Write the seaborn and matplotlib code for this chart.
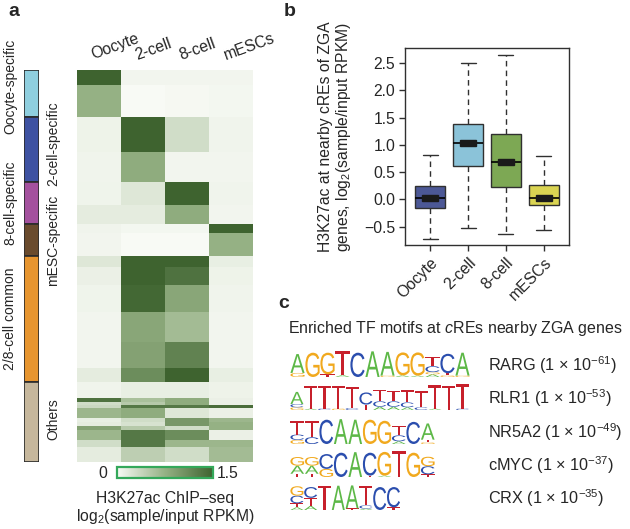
import numpy as np
import pandas as pd
import matplotlib
matplotlib.use("Agg")
import matplotlib.pyplot as plt
import seaborn as sns
from matplotlib.colors import LinearSegmentedColormap
from matplotlib.patches import Rectangle, PathPatch
from matplotlib.textpath import TextPath
from matplotlib.font_manager import FontProperties
import matplotlib.transforms as mtrans

sns.set_style("white")
plt.rcParams['font.family'] = ['Liberation Sans', 'DejaVu Sans']
plt.rcParams['mathtext.fontset'] = 'custom'
plt.rcParams['mathtext.rm'] = 'Liberation Sans'
plt.rcParams['mathtext.it'] = 'Liberation Sans:italic'

# ---------------- data: panel a ----------------
heat_columns = ["Oocyte", "2-cell", "8-cell", "mESCs"]
row_heights = [15, 32, 35, 30, 23, 19, 9, 23, 11, 18, 27, 30, 26, 14,
               16, 4, 3, 3, 10, 4, 4, 4, 10, 7, 15]
oocyte_vals = [1.5, 0.75, 0.08, 0.06, 0.07, 0.15, 0.06, 0.05, 0.2, 0.1, 0.07, 0.05, 0.05, 0.15,
               0.06, 1.35, 0.3, 0.35, 0.7, 0.12, 0.15, 0.9, 0.7, 0.3, 0.15]
cell2_vals = [0.05, 0.0, 1.5, 0.8, 0.2, 0.15, 0.04, 0.0, 1.6, 1.6, 1.45, 0.85, 0.9, 1.1,
              0.12, 0.6, 0.5, 1.3, 0.8, 0.3, 0.25, 0.5, 1.3, 1.3, 0.45]
cell8_vals = [0.05, 0.02, 0.3, 0.05, 1.5, 0.8, 0.04, 0.0, 1.6, 1.35, 0.85, 0.65, 1.2, 1.6,
              0.12, 0.8, 0.8, 1.3, 0.2, 1.0, 1.0, 0.3, 1.1, 0.7, 0.3]
mesc_vals = [0.05, 0.04, 0.06, 0.05, 0.06, 0.05, 1.5, 0.75, 0.12, 0.08, 0.06, 0.05, 0.05, 0.12,
             0.08, 0.1, 0.1, 1.4, 0.1, 0.7, 0.75, 0.75, 0.1, 0.7, 0.65]

group_names = ["Oocyte-specific", "2-cell-specific", "8-cell-specific",
               "mESC-specific", "2/8-cell common", "Others"]
group_sizes = [47, 65, 42, 32, 126, 80]
group_colors = ["#8FCFDF", "#3E52A2", "#A4519E", "#6A4B2D", "#E7952F", "#C6B79C"]
group_label_side = ["outer", "inner", "outer", "inner", "outer", "inner"]
group_label_shift = [-7, -6, 0, 0, 0, -3]

# ---------------- data: panel b ----------------
stages = ["Oocyte", "2-cell", "8-cell", "mESCs"]
# five-number summaries: min, Q1, median, Q3, max
oocyte_box = [-0.72, -0.15, 0.02, 0.24, 0.82]
cell2_box = [-0.52, 0.62, 1.03, 1.38, 2.51]
cell8_box = [-0.63, 0.23, 0.69, 1.20, 2.65]
mesc_box = [-0.56, -0.11, 0.02, 0.26, 0.80]
box_colors = ["#3F50A3", "#7EC9E6", "#7DB646", "#F1E93B"]

# ---------------- data: panel c ----------------
motif_names = ["RARG", "RLR1", "NR5A2", "cMYC", "CRX"]
motif_exps = [61, 53, 49, 37, 35]
rarg_logo = [[("G", .15), ("A", .7)], [("G", .9)], [("T", .1), ("G", .8)], [("A", .07), ("T", .88)],
             [("C", .9)], [("A", .95)], [("G", .05), ("A", .88)], [("A", .06), ("G", .85)],
             [("A", .05), ("G", .86)], [("A", .1), ("G", .08), ("C", .22), ("T", .35)],
             [("G", .06), ("T", .08), ("C", .72)], [("G", .05), ("A", .85)]]
rlr1_logo = [[("G", .1), ("C", .12), ("A", .45)], [("A", .05), ("T", .85)], [("C", .05), ("T", .85)],
             [("G", .05), ("T", .85)], [("C", .07), ("T", .8)], [("T", .2), ("C", .45)],
             [("A", .12), ("C", .2), ("T", .42)], [("A", .12), ("C", .2), ("T", .4)],
             [("A", .1), ("C", .18), ("T", .45)], [("C", .1), ("T", .6)],
             [("A", .05), ("T", .88)], [("T", .9)], [("C", .05), ("T", .9)]]
nr5a2_logo = [[("G", .15), ("C", .2), ("T", .5)], [("C", .25), ("T", .6)], [("C", .9)], [("A", .92)],
              [("A", .9)], [("G", .9)], [("G", .86)], [("A", .1), ("C", .22), ("T", .35)],
              [("C", .82)], [("G", .06), ("T", .1), ("A", .6)]]
cmyc_logo = [[("T", .12), ("A", .3), ("G", .32)], [("T", .12), ("A", .3), ("G", .32)],
             [("G", .3), ("C", .55)], [("C", .9)], [("A", .92)], [("T", .05), ("C", .85)],
             [("A", .05), ("G", .88)], [("T", .95)], [("G", .9)], [("T", .1), ("C", .3), ("G", .35)]]
crx_logo = [[("A", .1), ("T", .15), ("C", .28), ("G", .35)], [("A", .15), ("T", .3), ("C", .4)],
            [("T", .9)], [("A", .9)], [("T", .06), ("A", .85)], [("A", .05), ("C", .12), ("T", .72)],
            [("C", .85)], [("T", .1), ("C", .75)]]
logo_colors = {"A": "#5DB847", "C": "#2B4EAE", "G": "#F1A91E", "T": "#C7202B"}

# ---------------- figure ----------------
W, H = 630, 529
FS = 11.3
fig = plt.figure(figsize=(W / 100, H / 100), dpi=100)


def fax(l, t, r, b):
    return fig.add_axes([l / W, 1 - b / H, (r - l) / W, (b - t) / H])


# panel a heatmap
heat_left, heat_right, heat_top, heat_bottom = 77, 253, 69.5, 462
cmap = LinearSegmentedColormap.from_list("gr", [(0, "#F8FAF5"), (0.5, "#95B184"), (1, "#3E632F")],
                                         N=256)
reps = np.array(row_heights)
mat = np.column_stack([np.repeat(oocyte_vals, reps), np.repeat(cell2_vals, reps),
                       np.repeat(cell8_vals, reps), np.repeat(mesc_vals, reps)])
df_heat = pd.DataFrame(mat, columns=heat_columns)
ax_h = fax(heat_left, heat_top, heat_right, heat_bottom)
cax = fax(117, 467, 213, 478)
sns.heatmap(df_heat, ax=ax_h, cmap=cmap, vmin=0, vmax=1.5, cbar=True, cbar_ax=cax,
            cbar_kws={"orientation": "horizontal"}, xticklabels=False, yticklabels=False,
            rasterized=True)
ax_h.set_xlabel("")
ax_h.set_ylabel("")
for i, name in enumerate(heat_columns):
    ax_h.text(i + 0.40, 1.018, name,
              transform=mtrans.blended_transform_factory(ax_h.transData, ax_h.transAxes),
              rotation=20, ha="left", va="bottom", fontsize=FS, rotation_mode="anchor")
cax.set_xticks([])
cb = ax_h.collections[0].colorbar
cb.outline.set_edgecolor("#34A85A")
cb.outline.set_linewidth(1.6)
fig.text(103 / W, 1 - 473 / H, "0", ha="center", va="center", fontsize=FS)
fig.text(228 / W, 1 - 473 / H, "1.5", ha="center", va="center", fontsize=FS)
fig.text(165 / W, 1 - 498 / H, "H3K27ac ChIP–seq", ha="center", va="center", fontsize=FS)
fig.text(165 / W, 1 - 516 / H, r"log$_2$(sample/input RPKM)", ha="center", va="center", fontsize=FS)

# annotation bar
ax_g = fax(24, 70, 39, 462)
bottoms = np.concatenate([[0], np.cumsum(group_sizes)[:-1]])
ax_g.bar(np.zeros(len(group_sizes)), group_sizes, bottom=bottoms, width=1.0,
         color=group_colors, edgecolor="#2b2b2b", linewidth=1.2, align="center")
ax_g.set_xlim(-0.5, 0.5)
ax_g.set_ylim(sum(group_sizes), 0)
ax_g.axis("off")
tr = mtrans.blended_transform_factory(ax_g.transAxes, ax_g.transData)
for name, b, s, side, sh in zip(group_names, bottoms, group_sizes, group_label_side,
                                group_label_shift):
    xf = -0.93 if side == "outer" else 1.93
    ax_g.text(xf, b + s / 2 + sh, name, transform=tr, rotation=90, ha="center", va="center",
              fontsize=10.0)

fig.text(8 / W, 1 - 12 / H, "a", fontsize=14, fontweight="bold", ha="left", va="center")
fig.text(284 / W, 1 - 12 / H, "b", fontsize=14, fontweight="bold", ha="left", va="center")
fig.text(278 / W, 1 - 303 / H, "c", fontsize=14, fontweight="bold", ha="left", va="center")

# panel b boxplot
box_df = pd.DataFrame({
    "stage": np.repeat(stages, 5),
    "value": np.concatenate([oocyte_box, cell2_box, cell8_box, mesc_box]),
})
ax_b = fax(405, 48, 569, 245)
sns.boxplot(data=box_df, x="stage", y="value", hue="stage", palette=dict(zip(stages, box_colors)),
            order=stages, whis=(0, 100), width=0.8, linewidth=1.0, linecolor="#303030",
            whiskerprops=dict(linestyle=(0, (4, 3))), medianprops=dict(color="black", linewidth=1.2),
            showfliers=False, legend=False, ax=ax_b)
for i, arr in enumerate([oocyte_box, cell2_box, cell8_box, mesc_box]):
    ax_b.add_patch(Rectangle((i - 0.21, arr[2] - 0.055), 0.42, 0.11, color="#1a1a1a", zorder=5))
ax_b.set_xlim(-0.67, 3.67)
ax_b.set_ylim(-0.836, 2.78)
ax_b.set_yticks([-0.5, 0.0, 0.5, 1.0, 1.5, 2.0, 2.5])
ax_b.set_yticklabels(["−0.5", "0.0", "0.5", "1.0", "1.5", "2.0", "2.5"], fontsize=FS)
ax_b.set_xticks(range(4))
ax_b.set_xticklabels(stages, rotation=45, ha="right", rotation_mode="anchor", fontsize=FS)
ax_b.tick_params(axis="both", direction="out", length=4, width=1, color="#303030",
                 left=True, bottom=True, pad=3)
for sp in ax_b.spines.values():
    sp.set_visible(True)
    sp.set_color("#303030")
    sp.set_linewidth(1.0)
ax_b.set_xlabel("")
ax_b.set_ylabel("H3K27ac at nearby cREs of ZGA\n" + r"genes, log$_2$(sample/input RPKM)",
                fontsize=FS, linespacing=1.05)
ax_b.yaxis.set_label_coords(-0.32, 0.55)

# panel c motifs
fig.text(288 / W, 1 - 328 / H, r"Enriched TF motifs at $\mathit{c}$REs nearby ZGA genes",
         ha="left", va="center", fontsize=FS + 0.2)
ax_l = fax(285, 340, 480, 515)
ax_l.set_xlim(285, 480)
ax_l.set_ylim(H - 515, H - 340)
ax_l.axis("off")
fp = FontProperties(family="Liberation Sans")


def draw_letter(ax, ch, x, y, w, h, color):
    tp = TextPath((0, 0), ch, size=1, prop=fp)
    bb = tp.get_extents()
    t = mtrans.Affine2D().translate(-bb.x0, -bb.y0).scale(w / bb.width, h / bb.height).translate(x, y)
    ax.add_patch(PathPatch(t.transform_path(tp), fc=color, ec="none", lw=0))


logos = [rarg_logo, rlr1_logo, nr5a2_logo, cmyc_logo, crx_logo]
baselines = [377, 410, 444, 477, 510]
widths = [15, 13.8, 14.5, 14.5, 13.8]
logo_h = 27
for logo, base, w, name, ex in zip(logos, baselines, widths, motif_names, motif_exps):
    for p, stack in enumerate(logo):
        y = H - base
        for ch, hh in stack:
            draw_letter(ax_l, ch, 290 + p * w + 0.4, y, w - 0.8, hh * logo_h, logo_colors[ch])
            y += hh * logo_h
    fig.text(488 / W, 1 - (base - 12) / H, name + r" (1 × 10$^{−" + str(ex) + "}$)",
             ha="left", va="center", fontsize=FS + 0.4)

fig.savefig("out.png", dpi=100, facecolor="white")
